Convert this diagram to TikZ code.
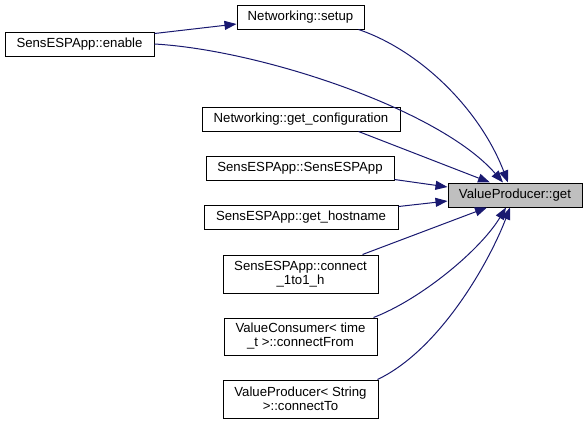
\documentclass[tikz,border=0pt]{standalone}
\usepackage{fontspec}
\setmainfont{Liberation Sans}
\usetikzlibrary{arrows.meta}
\definecolor{edgeblue}{HTML}{191970}
\definecolor{rootgray}{HTML}{BFBFBF}
\begin{document}
\begin{tikzpicture}[x=1pt,y=-1pt,
  fn/.style={draw=black,line width=1pt,fill=white,inner sep=0pt,align=center,
    minimum height=24pt,font=\fontsize{13.2}{14}\selectfont},
  fntwo/.style={fn,minimum height=38pt},
  root/.style={fn,fill=rootgray},
  call/.style={draw=edgeblue,line width=1pt,-{Triangle[length=12pt,width=9pt]}}]
\useasboundingbox (0,0) rectangle (587,424);
% nodes
\node[fn,minimum width=149pt] (enable) at (79.5,44) {SensESPApp::enable};
\node[fn,minimum width=127pt] (setup) at (300.5,17) {Networking::setup};
\node[fn,minimum width=198pt] (config) at (301,119) {Networking::get\_configuration};
\node[fn,minimum width=188pt] (sapp) at (300,168) {SensESPApp::SensESPApp};
\node[fn,minimum width=194pt] (host) at (301,217) {SensESPApp::get\_hostname};
\node[fntwo,minimum width=155pt] (conn) at (300.5,274) {SensESPApp::connect\\\_1to1\_h};
\node[fntwo,minimum width=153pt,minimum height=37pt] (cfrom) at (300.5,336.5) {ValueConsumer< time\\\_t >::connectFrom};
\node[fntwo,minimum width=155pt] (cto) at (300.5,399) {ValueProducer< String\\>::connectTo};
\node[root,minimum width=134pt] (get) at (515,195) {ValueProducer::get};
% edges
\draw[call] ([yshift=-2pt]enable.north east) -- ([yshift=-7pt]setup.west);
\draw[call] (enable.east) .. controls +(106,6) and +(-63,-73) .. ([xshift=-12pt]get.north);
\draw[call] ([xshift=-6pt]setup.south east) .. controls +(62,21) and +(-28,-73) .. ([xshift=-7pt]get.north);
\draw[call] ([xshift=-42pt]config.south east) -- ([xshift=-25pt]get.north);
\draw[call] ([yshift=1pt]sapp.south east) -- ([yshift=8pt]get.west);
\draw[call] ([yshift=-2pt]host.north east) -- ([yshift=-6pt]get.west);
\draw[call] ([xshift=-16pt]conn.north east) -- ([xshift=-28pt]get.south);
\draw[call] ([xshift=-4pt]cfrom.north east) .. controls +(47,-18) and +(-26,43) .. ([xshift=-9pt]get.south);
\draw[call] ([xshift=-1pt]cto.north east) .. controls +(63,-30) and +(-20,53) .. ([xshift=-5pt]get.south);
\end{tikzpicture}
\end{document}
